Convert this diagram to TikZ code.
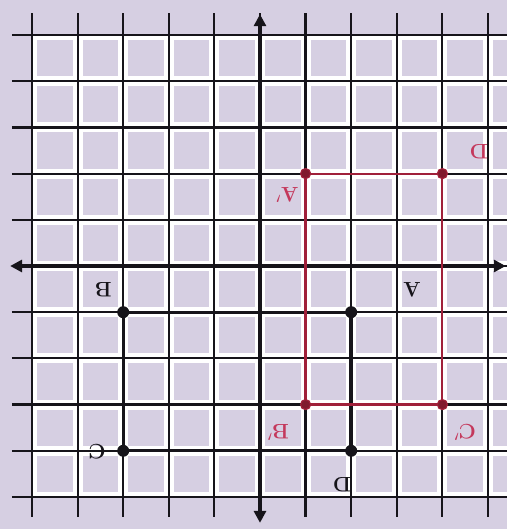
\documentclass[tikz,border=0pt]{standalone}
\usetikzlibrary{arrows.meta}
\definecolor{lav}{RGB}{214,207,226}
\definecolor{pen}{RGB}{22,20,26}
\definecolor{redpen}{RGB}{160,32,58}
\definecolor{redlab}{RGB}{196,56,92}
\begin{document}
\begin{tikzpicture}[x=45.6pt,y=46.2pt,
  gridline/.style={draw=pen,line width=2.2pt},
  axisline/.style={draw=pen,line width=3.6pt,{Triangle[length=12pt,width=12pt]}-{Triangle[length=12pt,width=12pt]}},
  blackside/.style={draw=pen,line width=3.4pt,line cap=round},
  redside/.style={draw=redpen,line width=2.2pt,line cap=round},
  bdot/.style={circle,fill=pen,inner sep=0pt,minimum size=12pt},
  rdot/.style={circle,fill=redpen!80!black,draw=redpen,line width=1.2pt,inner sep=0pt,minimum size=10pt},
  blab/.style={text=pen,rotate=180,font=\fontsize{21}{21}\selectfont\bfseries,inner sep=0pt},
  rlab/.style={text=redlab,rotate=180,font=\fontsize{21}{21}\selectfont\bfseries,inner sep=0pt}]
\useasboundingbox[fill=lav] (-5.702,-5.693) rectangle (5.417,5.758);
% cell frames
\fill[white] (-5,-5) rectangle (5.417,5);
\foreach \i in {-5,...,5}
  \foreach \j in {-5,...,4}
    \fill[lav] (\i+0.11,\j+0.11) rectangle (\i+0.89,\j+0.89);
% grid lines
\foreach \i in {-5,...,5}
  \draw[gridline] (\i,-5.43) -- (\i,5.48);
\foreach \j in {-5,...,5}
  \draw[gridline] (-5.44,\j) -- (5.42,\j);
% axes
\coordinate (ytop) at (0,5.45);
\coordinate (ybot) at (0,-5.56);
\coordinate (xleft) at (-5.48,0);
\coordinate (xright) at (5.39,0);
\draw[axisline] (ybot) -- (ytop);
\draw[axisline] (xleft) -- (xright);
% black rectangle
\coordinate (B) at (-3,-1);
\coordinate (A) at (2,-1);
\coordinate (C) at (-3,-4);
\coordinate (D) at (2,-4);
\draw[blackside] (B) -- (A) -- (D) -- (C) -- cycle;
% red rectangle
\coordinate (A1) at (1,2);
\coordinate (D1) at (4,2);
\coordinate (C1) at (4,-3);
\coordinate (B1) at (1,-3);
\draw[redside] (A1) -- (D1) -- (C1) -- (B1) -- cycle;
% dots
\foreach \p in {A,B,C,D} \node[bdot] (dot\p) at (\p) {};
\foreach \p in {A1,B1,C1,D1} \node[rdot] (dot\p) at (\p) {};
% labels
\node[blab] (labB) at (-3.44,-0.52) {B};
\node[blab] (labA) at (3.33,-0.52) {A};
\node[blab] (labC) at (-3.57,-4.03) {C};
\node[blab] (labD) at (1.8,-4.74) {D};
\node[rlab] (labA1) at (0.6,1.54) {A$'$};
\node[rlab] (labD1) at (4.8,2.47) {D};
\node[rlab] (labB1) at (0.4,-3.6) {B$'$};
\node[rlab] (labC1) at (4.5,-3.6) {C$'$};
\end{tikzpicture}
\end{document}
